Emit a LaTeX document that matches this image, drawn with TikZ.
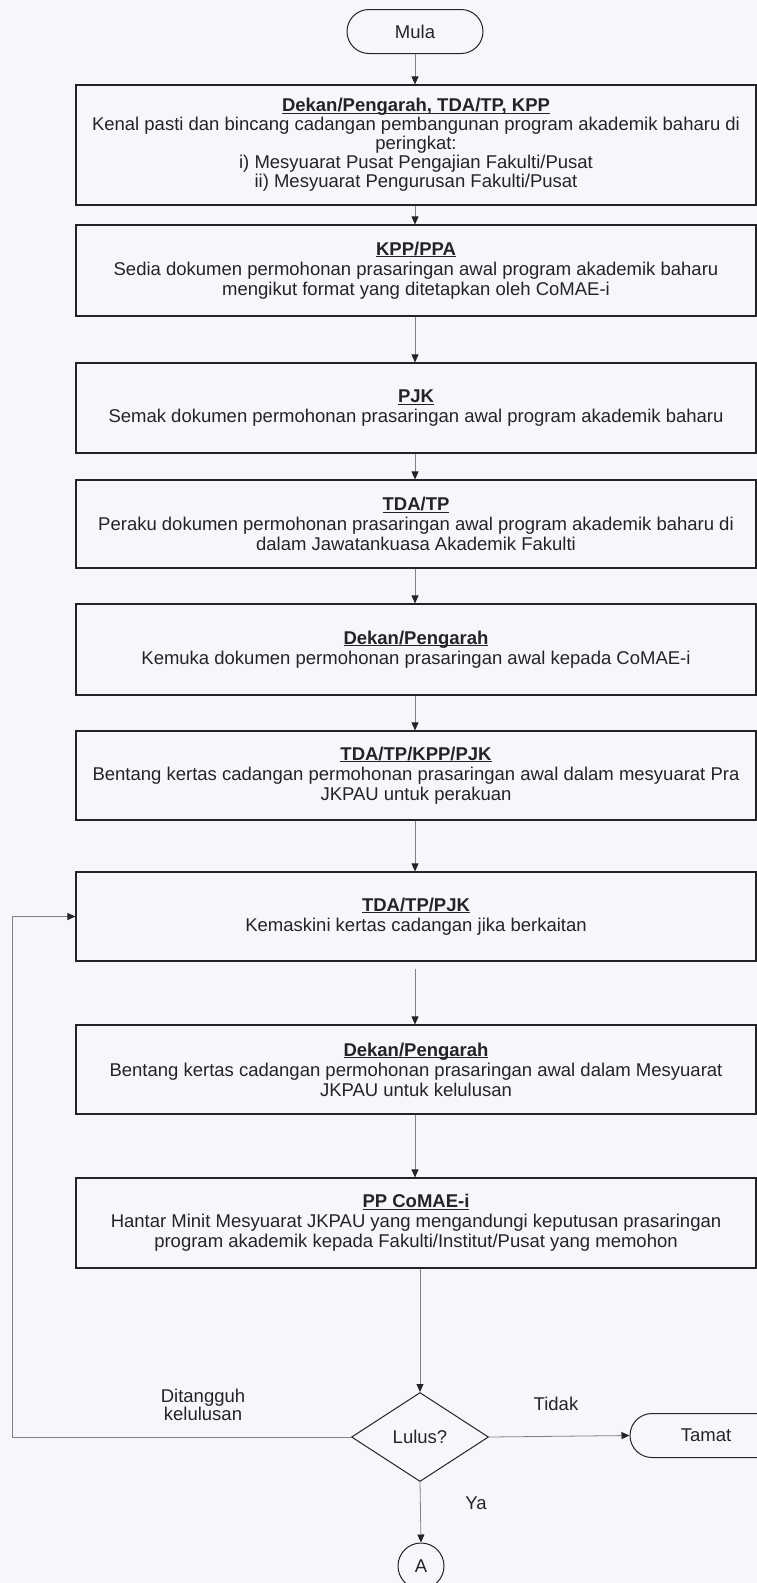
\documentclass[tikz,border=0pt]{standalone}
\usepackage{fontspec}
\setmainfont{Liberation Sans}
\usetikzlibrary{arrows.meta,shapes.geometric,shapes.misc}
\definecolor{paper}{RGB}{246,247,251}
\definecolor{ink}{RGB}{35,35,40}
\definecolor{wire}{RGB}{130,130,135}
\newcommand{\hd}[1]{\textbf{\underline{\smash{#1}}\vphantom{#1}}}
\begin{document}
\begin{tikzpicture}[x=1pt,y=-1pt,
  txt/.style={font=\fontsize{18.5}{20}\selectfont, text=ink},
  procbox/.style={txt, draw=ink, line width=1.2pt, minimum width=680pt, align=center, inner sep=0pt},
  term/.style={txt, draw=ink, line width=1pt, rounded rectangle, minimum height=44pt, inner sep=0pt},
  decision/.style={txt, draw=ink, line width=1pt, diamond, minimum width=137pt, minimum height=89pt, inner sep=0pt},
  conn/.style={txt, draw=ink, line width=1pt, circle, minimum size=46pt, inner sep=0pt},
  flow/.style={draw=wire, line width=0.8pt, -{Triangle[width=7pt,length=8pt,color=ink]}},
  lbl/.style={txt, align=center}
]
\fill[paper] (0,0) rectangle (757,1583);
\useasboundingbox (0,0) rectangle (757,1583);
\clip (0,0) rectangle (757,1583);

\node[term, minimum width=136pt] (mula) at (415,31.5) {Mula};

\node[procbox, minimum height=120pt] (b1) at (416,145) {\hd{Dekan/Pengarah, TDA/TP, KPP}\\[-1pt]
Kenal pasti dan bincang cadangan pembangunan program akademik baharu di\\[-1pt]
peringkat:\\[-1pt]
i) Mesyuarat Pusat Pengajian Fakulti/Pusat\\[-1pt]
ii) Mesyuarat Pengurusan Fakulti/Pusat};

\node[procbox, minimum height=91pt] (b2) at (416,270.5) {\hd{KPP/PPA}\\
Sedia dokumen permohonan prasaringan awal program akademik baharu\\
mengikut format yang ditetapkan oleh CoMAE-i};

\node[procbox, minimum height=90pt] (b3) at (416,408) {\hd{PJK}\\
Semak dokumen permohonan prasaringan awal program akademik baharu};

\node[procbox, minimum height=88pt] (b4) at (416,524) {\hd{TDA/TP}\\
Peraku dokumen permohonan prasaringan awal program akademik baharu di\\
dalam Jawatankuasa Akademik Fakulti};

\node[procbox, minimum height=91pt] (b5) at (416,649.5) {\hd{Dekan/Pengarah}\\
Kemuka dokumen permohonan prasaringan awal kepada CoMAE-i};

\node[procbox, minimum height=89pt] (b6) at (416,775.5) {\hd{TDA/TP/KPP/PJK}\\
Bentang kertas cadangan permohonan prasaringan awal dalam mesyuarat Pra\\
JKPAU untuk perakuan};

\node[procbox, minimum height=89pt] (b7) at (416,916.5) {\hd{TDA/TP/PJK}\\
Kemaskini kertas cadangan jika berkaitan};

\node[procbox, minimum height=89pt] (b8) at (416,1069.5) {\hd{Dekan/Pengarah}\\
Bentang kertas cadangan permohonan prasaringan awal dalam Mesyuarat\\
JKPAU untuk kelulusan};

\node[procbox, minimum height=90pt] (b9) at (416,1223) {\hd{PP CoMAE-i}\\
Hantar Minit Mesyuarat JKPAU yang mengandungi keputusan prasaringan\\
program akademik kepada Fakulti/Institut/Pusat yang memohon};

\node[decision] (dec) at (420,1437) {Lulus?};
\node[term, minimum width=152pt] (tamat) at (706,1435.5) {Tamat};
\node[conn] (a) at (421,1566) {A};

\coordinate (loopL) at (12,1437);

\draw[flow] (mula.south) -- (mula.south |- b1.north);
\draw[flow] (b1.south -| mula.south) -- (b2.north -| mula.south);
\draw[flow] (b2.south -| mula.south) -- (b3.north -| mula.south);
\draw[flow] (b3.south -| mula.south) -- (b4.north -| mula.south);
\draw[flow] (b4.south -| mula.south) -- (b5.north -| mula.south);
\draw[flow] (b5.south -| mula.south) -- (b6.north -| mula.south);
\draw[flow] (b6.south -| mula.south) -- (b7.north -| mula.south);
\draw[flow, shorten <=7pt] (b7.south -| mula.south) -- (b8.north -| mula.south);
\draw[flow] (b8.south -| mula.south) -- (b9.north -| mula.south);
\draw[flow] (b9.south -| dec.north) -- (dec.north);
\draw[flow] (dec.east) -- (tamat.west);
\draw[flow] (dec.south) -- (a.north);
\draw[flow] (dec.west) -- (loopL) |- (b7.west);

\node[lbl] (ltang) at (203,1405) {Ditangguh\\[-2pt]kelulusan};
\node[lbl] (ltidak) at (556,1404) {Tidak};
\node[lbl] (lya) at (476,1503) {Ya};
\end{tikzpicture}
\end{document}
